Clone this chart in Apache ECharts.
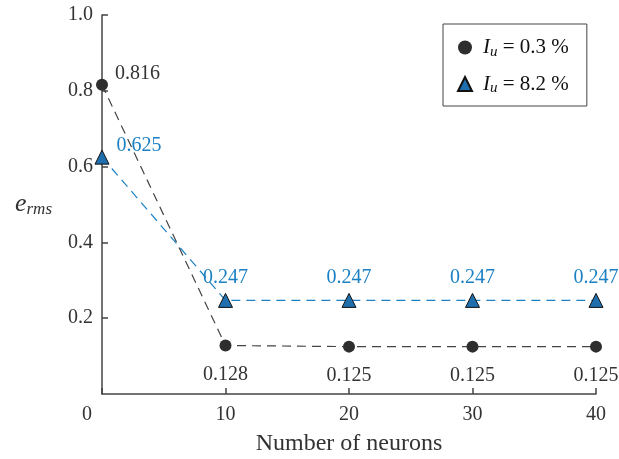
<!DOCTYPE html>
<html>
<head>
<meta charset="utf-8">
<script src="https://cdn.jsdelivr.net/npm/echarts@6/dist/echarts.min.js"></script>
<style>
  html, body { margin: 0; padding: 0; background: #fff; }
  #chart { width: 619px; height: 459px; }
</style>
</head>
<body>
<div id="chart"></div>
<script>
const neurons = [0, 10, 20, 30, 40];
const errLow = [0.816, 0.128, 0.125, 0.125, 0.125];   // I_u = 0.3 %
const errHigh = [0.625, 0.247, 0.247, 0.247, 0.247];  // I_u = 8.2 %
const levels = ['0.3', '8.2'];
const xTicks = [0, 10, 20, 30, 40];
const yTicks = [0, 0.2, 0.4, 0.6, 0.8, 1.0];

const font = '"Liberation Serif", "Times New Roman", serif';
const textCol = '#333';
const blue = '#1b80c4';

function buildData(values, restPos, dist) {
  return values.map((v, i) => ({
    value: [neurons[i], v],
    label: i === 0
      ? { position: 'right', offset: [2, -11] }
      : { position: restPos, distance: dist }
  }));
}

const chart = echarts.init(document.getElementById('chart'));

const legendRich = {
  i: { fontFamily: font, fontSize: 21, fontStyle: 'italic', color: '#111', padding: [0, 0, 0, 6] },
  s: { fontFamily: font, fontSize: 15, fontStyle: 'italic', color: '#111', padding: [9, 0, 0, 0] },
  t: { fontFamily: font, fontSize: 21, color: '#111' }
};

chart.setOption({
  animation: false,
  backgroundColor: '#fff',
  grid: { left: 102, right: 23, top: 15, bottom: 65, outerBoundsMode: 'none', containLabel: false },
  legend: {
    orient: 'vertical',
    left: 443,
    top: 24,
    padding: [13, 18, 10, 14],
    itemGap: 14,
    itemWidth: 14,
    itemHeight: 14,
    borderColor: '#444',
    borderWidth: 1,
    backgroundColor: '#fff',
    data: [
      { name: 'I_u = ' + levels[0] + ' %', icon: 'circle' },
      { name: 'I_u = ' + levels[1] + ' %', icon: 'triangle' }
    ],
    formatter: name => '{i|I}{s|u}{t| = ' + name.split('= ')[1] + '}',
    textStyle: { rich: legendRich, fontFamily: font, fontSize: 21 }
  },
  xAxis: {
    type: 'value',
    min: xTicks[0],
    max: xTicks[xTicks.length - 1],
    interval: 10,
    name: 'Number of neurons',
    nameLocation: 'middle',
    nameGap: 38,
    nameTextStyle: { fontFamily: font, fontSize: 24, color: textCol },
    axisLine: { lineStyle: { color: '#444', width: 1.5 } },
    axisTick: { inside: true, length: 6, lineStyle: { color: '#444', width: 1.5 } },
    axisLabel: {
      margin: 11,
      fontFamily: font, fontSize: 20, color: textCol,
      formatter: v => v === 0 ? '{z|0}' : String(v),
      rich: { z: { fontFamily: font, fontSize: 20, color: textCol, padding: [0, 30, 0, 0] } }
    },
    splitLine: { show: false }
  },
  yAxis: {
    type: 'value',
    min: yTicks[0],
    max: yTicks[yTicks.length - 1],
    interval: 0.2,
    name: '{e|e}{s|rms}',
    nameLocation: 'middle',
    nameRotate: 0,
    nameGap: 50,
    nameTextStyle: {
      rich: {
        e: { fontFamily: font, fontSize: 26, fontStyle: 'italic', color: textCol },
        s: { fontFamily: font, fontSize: 17, fontStyle: 'italic', color: textCol, padding: [10, 0, 0, 0] }
      }
    },
    axisLine: { show: true, lineStyle: { color: '#444', width: 1.5 } },
    axisTick: { show: true, inside: true, length: 6, lineStyle: { color: '#444', width: 1.5 } },
    axisLabel: {
      showMinLabel: false,
      margin: 9,
      fontFamily: font, fontSize: 20, color: textCol,
      formatter: v => v.toFixed(1)
    },
    splitLine: { show: false }
  },
  series: [
    {
      name: 'I_u = ' + levels[0] + ' %',
      type: 'line',
      symbol: 'circle',
      symbolSize: 12,
      z: 3,
      itemStyle: { color: '#2e2e2e' },
      lineStyle: { color: '#444', width: 1.2, type: [9, 6] },
      label: {
        show: true, fontFamily: font, fontSize: 20, color: textCol,
        formatter: p => p.value[1].toFixed(3)
      },
      data: buildData(errLow, 'bottom', 13)
    },
    {
      name: 'I_u = ' + levels[1] + ' %',
      type: 'line',
      symbol: 'triangle',
      symbolSize: 14,
      z: 4,
      itemStyle: { color: '#1f6fae', borderColor: '#111', borderWidth: 1 },
      lineStyle: { color: blue, width: 1.2, type: [9, 6] },
      label: {
        show: true, fontFamily: font, fontSize: 20, color: blue,
        formatter: p => p.value[1].toFixed(3)
      },
      data: buildData(errHigh, 'top', 5)
    }
  ]
});
</script>
</body>
</html>
